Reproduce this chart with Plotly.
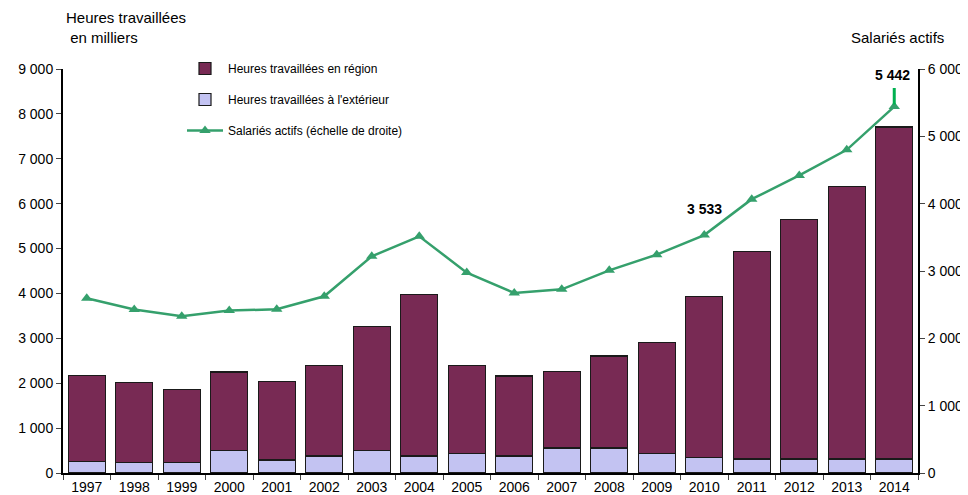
import plotly.graph_objects as go

years = [str(y) for y in range(1997, 2015)]
total_hours = [2165, 2010, 1865, 2250, 2035, 2400, 3265, 3985, 2395, 2160,
               2270, 2605, 2910, 3940, 4940, 5640, 6390, 7710]
exterior_hours = [265, 230, 230, 505, 290, 380, 497, 380, 440, 380,
                  557, 557, 440, 350, 312, 312, 312, 312]
region_hours = [t - e for t, e in zip(total_hours, exterior_hours)]
salaries = [2595, 2427, 2328, 2412, 2432, 2625, 3218, 3515, 2976, 2674,
            2728, 3010, 3243, 3533, 4067, 4419, 4800, 5442]

FONT = "Liberation Sans, Arial, sans-serif"
GREEN = "#35a06c"
# page offset from the browser's default body margin
OFF = 8
W, H = 968 - OFF, 495 - OFF
L, T = 63 - OFF, 69 - OFF
R = W - (918 - OFF)
B = H - (473 - OFF)
PW, PH = W - L - R, H - T - B

fig = go.Figure()
fig.add_trace(go.Bar(
    x=years, y=exterior_hours, name="Heures travaillées à l'extérieur",
    marker=dict(color="#c3c3f2", line=dict(color="#1a1a1a", width=1.2)),
    legendgroup="b", legendrank=2,
))
fig.add_trace(go.Bar(
    x=years, y=region_hours, name="Heures travaillées en région",
    marker=dict(color="#782a54", line=dict(color="#1a1a1a", width=1.2)),
    legendgroup="a", legendrank=1,
))
fig.add_trace(go.Scatter(
    x=years, y=salaries, name="Salariés actifs (échelle de droite)", yaxis="y2",
    mode="lines+markers",
    line=dict(color=GREEN, width=2.5),
    marker=dict(symbol="triangle-up", size=10, color=GREEN),
    legendgroup="c", legendrank=3,
))

i2010 = years.index("2010")
i2014 = years.index("2014")
fig.add_annotation(x=i2010, y=3921, yref="y2", text="<b>3 533</b>", showarrow=False,
                   font=dict(size=14, color="black", family=FONT), yanchor="middle")
fig.add_annotation(x=i2014, y=5911, yref="y2", text="<b>5 442</b>", showarrow=False,
                   font=dict(size=14, color="black", family=FONT), yanchor="middle",
                   xshift=-2)
fig.add_annotation(x=i2014, y=5442, yref="y2", text="", showarrow=True,
                   ax=0, ay=-20, arrowhead=0, arrowwidth=3, arrowcolor="#00b050",
                   standoff=2)

fig.add_annotation(xref="paper", yref="paper", x=1 / PW, y=1 + (69 - 7) / PH,
                   xanchor="left", yanchor="top", align="left", showarrow=False,
                   text="Heures travaillées<br> en milliers",
                   font=dict(size=15, color="black", family=FONT))
fig.add_annotation(xref="paper", yref="paper", x=(946 - 63) / PW, y=1 + (69 - 38) / PH,
                   xanchor="right", yanchor="middle", showarrow=False,
                   text="Salariés actifs",
                   font=dict(size=15, color="black", family=FONT))

fig.update_layout(
    width=W, height=H,
    margin=dict(l=L, r=R, t=T, b=B, autoexpand=False),
    barmode="stack", bargap=0.22,
    plot_bgcolor="white", paper_bgcolor="white",
    separators=", ",
    font=dict(family=FONT, size=14, color="black"),
    legend=dict(x=(182 - 63) / PW, y=1 + (69 - 54) / PH, xanchor="left", yanchor="top",
                traceorder="grouped", tracegroupgap=12, itemwidth=36,
                font=dict(size=12, family=FONT), bgcolor="rgba(0,0,0,0)"),
    xaxis=dict(type="category", range=[-0.5, len(years) - 0.5], automargin=False,
               tickson="boundaries", ticks="outside", ticklen=5, tickangle=0,
               showline=True, linecolor="black", linewidth=2, showgrid=False,
               tickfont=dict(size=14)),
    yaxis=dict(range=[0, 9000], dtick=1000, tickformat=",d", showgrid=False,
               automargin=False,
               showline=True, linecolor="black", linewidth=2, ticks="outside",
               ticklen=5, zeroline=False, tickfont=dict(size=14)),
    yaxis2=dict(range=[0, 6000], dtick=1000, tickformat=",d", overlaying="y",
                automargin=False,
                side="right", showgrid=False, showline=True, linecolor="black",
                linewidth=2, ticks="outside", ticklen=5, zeroline=False,
                tickfont=dict(size=14)),
)

fig.write_html("out.html")
